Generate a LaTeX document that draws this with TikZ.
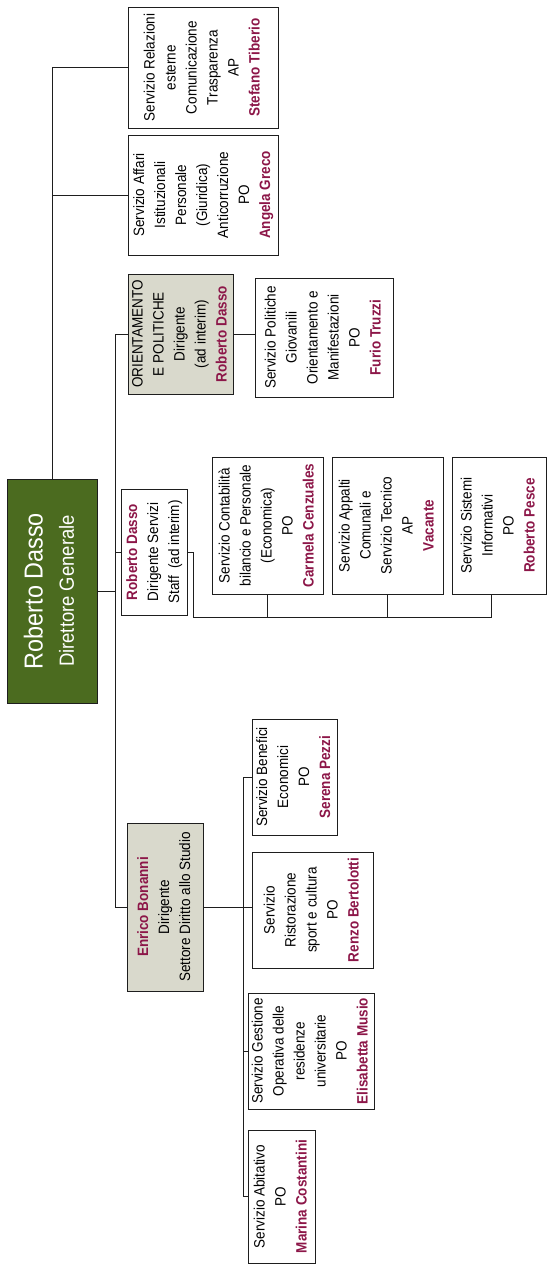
\documentclass[tikz,border=0pt]{standalone}
\usepackage{fontspec}
\setmainfont[FakeStretch=0.9]{Liberation Sans}
\setsansfont[FakeStretch=0.9]{Liberation Sans}
\usepackage{graphicx}
\definecolor{nome}{RGB}{140,22,72}
\definecolor{dgreen}{RGB}{75,107,31}
\definecolor{dirfill}{RGB}{217,217,204}
\definecolor{ln}{RGB}{30,30,30}
\newcommand\rtx[1]{\rotatebox{90}{\begin{tabular}{@{}c@{}}#1\end{tabular}}}
\newcommand\nm[1]{{\bfseries\color{nome}#1}}
\begin{document}
\begin{tikzpicture}[x=1pt,y=-1pt,
  box/.style={draw=ln, line width=1pt, inner sep=0pt, fill=white, font=\fontsize{15}{21}\selectfont},
  dirbox/.style={box, fill=dirfill},
  conn/.style={line width=1pt, draw=ln}]
\useasboundingbox (0,0) rectangle (547,1264);
% main
\node[box, fill=dgreen, text=white, minimum width=90pt, minimum height=224pt] (dg) at (52,591)
  {\rotatebox{90}{\begin{tabular}{@{}c@{}}\fontsize{26}{30}\selectfont Roberto Dasso\\[10pt]\fontsize{20.5}{24}\selectfont Direttore Generale\end{tabular}}};
% top branch
\node[box, minimum width=150pt, minimum height=121pt] (st) at (203,67.5)
  {\rtx{Servizio Relazioni\\esterne\\Comunicazione\\Trasparenza\\AP\\\nm{Stefano Tiberio}}};
\node[box, minimum width=150pt, minimum height=120pt] (ag) at (203,195)
  {\rtx{Servizio Affari\\Istituzionali\\Personale\\(Giuridica)\\Anticorruzione\\PO\\\nm{Angela Greco}}};
% orientamento
\node[dirbox, minimum width=105pt, minimum height=120pt] (or) at (180.5,334)
  {\rtx{ORIENTAMENTO\\E POLITICHE\\Dirigente\\(ad interim)\\\nm{Roberto Dasso}}};
\node[box, minimum width=138pt, minimum height=119pt] (fu) at (324,337.5)
  {\rtx{Servizio Politiche\\Giovanili\\Orientamento e\\Manifestazioni\\PO\\\nm{Furio Truzzi}}};
% staff
\node[box, minimum width=66pt, minimum height=126pt] (sf) at (154,552)
  {\rtx{\nm{Roberto Dasso}\\Dirigente Servizi\\Staff\ \ (ad interim)}};
\node[box, minimum width=111pt, minimum height=137pt] (ca) at (267.5,525.5)
  {\rtx{Servizio Contabilità\\bilancio e Personale\\(Economica)\\PO\\\nm{Carmela Cenzuales}}};
\node[box, minimum width=111pt, minimum height=137pt] (va) at (387.5,525.5)
  {\rtx{Servizio Appalti\\Comunali e\\Servizio Tecnico\\AP\\\nm{Vacante}}};
\node[box, minimum width=94pt, minimum height=137pt] (pe) at (499,525.5)
  {\rtx{Servizio Sistemi\\Informativi\\PO\\\nm{Roberto Pesce}}};
% diritto allo studio
\node[dirbox, minimum width=76pt, minimum height=168pt] (en) at (165,907)
  {\rtx{\nm{Enrico Bonanni}\\Dirigente\\Settore Diritto allo Studio}};
\node[box, minimum width=85pt, minimum height=116pt] (se) at (294.5,777)
  {\rtx{Servizio Benefici\\Economici\\PO\\\nm{Serena Pezzi}}};
\node[box, minimum width=121pt, minimum height=116pt] (re) at (312.5,910)
  {\rtx{Servizio\\Ristorazione\\sport e cultura\\PO\\\nm{Renzo Bertolotti}}};
\node[box, minimum width=122pt, minimum height=116pt] (el) at (311,1051)
  {\rtx{Servizio Gestione\\Operativa delle\\residenze\\universitarie\\PO\\\nm{Elisabetta Musio}}};
\node[box, minimum width=67pt, minimum height=133pt] (ma) at (281.5,1196.5)
  {\rtx{Servizio Abitativo\\PO\\\nm{Marina Costantini}}};
% connectors
\coordinate (b1) at (115,334);
\coordinate (sb) at (193,617);
\coordinate (eb) at (243,777);
\draw[conn] (dg.north) |- (st.west);
\draw[conn] (dg.north |- ag.west) -- (ag.west);
\draw[conn] (dg.east) -- (dg.east -| b1);
\draw[conn] (or.west) -- (b1) |- (en.west);
\draw[conn] (sf.west) -- (sf.west -| b1);
\draw[conn] (or.east) -- (or.east -| fu.west);
\draw[conn] (sf.east) -| (sb) -| ([xshift=-8pt]pe.south);
\draw[conn] (ca.south) -- (ca.south |- sb);
\draw[conn] (va.south) -- (va.south |- sb);
\draw[conn] (en.east) -- (en.east -| re.west);
\draw[conn] (se.west) -| (eb |- ma.west) -- (ma.west);
\draw[conn] (el.west) -- (el.west -| eb);
\end{tikzpicture}
\end{document}
